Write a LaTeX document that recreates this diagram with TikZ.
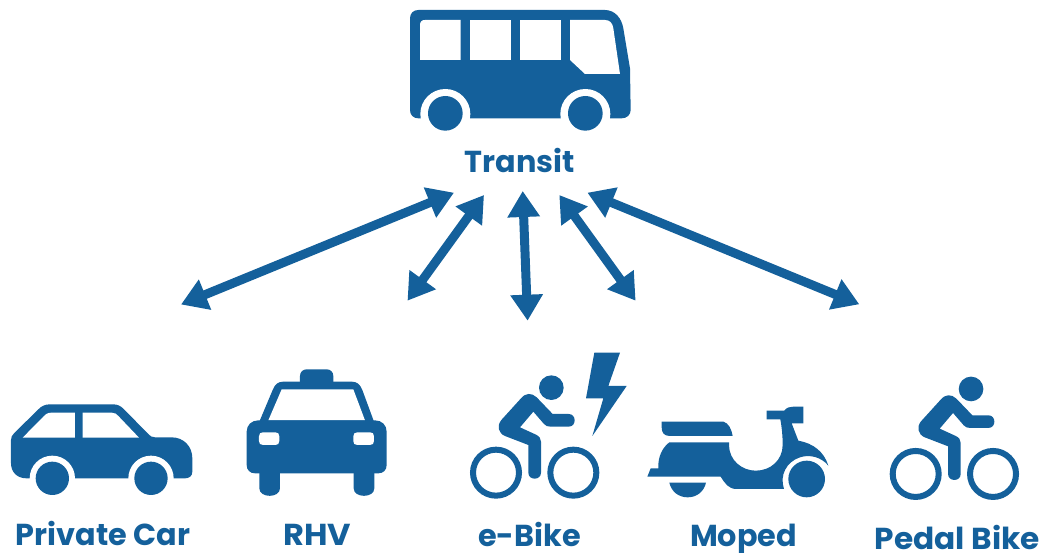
\documentclass[tikz,border=0pt]{standalone}
\usepackage{fontspec}
\setmainfont{Poppins}
\usetikzlibrary{arrows.meta}
\definecolor{blu}{HTML}{14609B}
\tikzset{
  lbl/.style={font=\fontsize{30.3}{32}\selectfont\bfseries,text=blu,inner sep=0pt,anchor=base},
  twoway/.style={draw=blu,line width=9pt,{Triangle[length=26pt,width=31pt]}-{Triangle[length=26pt,width=31pt]}},
  ico/.style={fill=blu,draw=none},
  icon/.style={scale=0.33333},
  rim/.style={draw=blu,line width=6pt,fill=none},
}
\newcommand{\cyclistshape}{%
  \fill[ico] (274,143) circle[radius=37];
  \draw[rim] (108,398) circle[radius=69];
  \draw[rim] (340,398) circle[radius=69];
  \fill[ico] (124,240) -- (183,175) .. controls (197,158) and (215,158) .. (230,172)
    -- (278,222) -- (326,222) .. controls (350,222) and (350,260) .. (326,260)
    -- (272,260) .. controls (262,260) and (258,258) .. (252,252)
    -- (220,215) -- (180,262) -- (228,284) .. controls (238,289) and (243,295) .. (243,305)
    -- (243,398) .. controls (243,422) and (205,422) .. (205,398)
    -- (205,315) -- (135,288) .. controls (115,280) and (110,257) .. (124,240) -- cycle;
}
\begin{document}
\begin{tikzpicture}[x=1pt,y=-1pt]
\useasboundingbox (0,0) rectangle (1045,553);

% Bus
\begin{scope}[shift={(400,0)},icon]
  \fill[ico] (30,55) .. controls (30,40) and (40,30) .. (55,30) -- (615,30)
    .. controls (645,30) and (665,55) .. (670,85) -- (690,205) -- (692,330)
    .. controls (692,345) and (680,355) .. (665,355) -- (55,355)
    .. controls (40,355) and (30,345) .. (30,330) -- cycle;
  \fill[white] (60,75) .. controls (60,65) and (65,60) .. (75,60) -- (182,60) -- (182,180) -- (60,180) -- cycle;
  \fill[white] (210,60) rectangle (332,180);
  \fill[white] (360,60) rectangle (482,180);
  \fill[white] (510,60) -- (615,60) .. controls (630,60) and (638,70) .. (640,85)
    -- (660,222) -- (555,222) -- (510,180) -- cycle;
  \fill[white] (136,342) circle[radius=75];
  \fill[white] (556,342) circle[radius=75];
  \fill[white] (40,356) rectangle (660,400);
  \fill[ico] (136,340) circle[radius=52];
  \fill[ico] (556,340) circle[radius=52];
\end{scope}

% Car
\begin{scope}[shift={(0,360)},icon]
  \fill[ico] (33,240) .. controls (33,232) and (36,226) .. (42,220) -- (115,148)
    .. controls (125,138) and (135,133) .. (150,133) -- (340,133)
    .. controls (352,133) and (362,138) .. (370,146) -- (445,222)
    .. controls (450,228) and (455,232) .. (465,232) -- (515,232)
    .. controls (550,232) and (577,258) .. (577,295) -- (577,335)
    .. controls (577,348) and (568,355) .. (555,355) -- (80,355)
    .. controls (50,355) and (33,335) .. (33,310) -- cycle;
  \fill[white] (68,233) -- (130,170) .. controls (138,162) and (142,158) .. (155,158) -- (225,158) -- (225,233) -- cycle;
  \fill[white] (248,158) -- (335,158) .. controls (345,158) and (350,162) .. (355,168) -- (417,233) -- (248,233) -- cycle;
  \fill[white] (157,355) circle[radius=68];
  \fill[white] (453,355) circle[radius=68];
  \fill[white] (60,356) rectangle (550,440);
  \fill[ico] (157,355) circle[radius=50];
  \fill[ico] (453,355) circle[radius=50];
\end{scope}

% Taxi
\begin{scope}[shift={(0,360)},icon]
  \fill[ico] (900,72) -- (900,48) .. controls (900,35) and (910,28) .. (920,28) -- (980,28)
    .. controls (990,28) and (1000,35) .. (1000,48) -- (1000,72) -- cycle;
  \fill[ico] (778,185) -- (818,90) .. controls (825,72) and (835,65) .. (850,65) -- (1055,65)
    .. controls (1070,65) and (1080,72) .. (1087,90) -- (1122,185) -- cycle;
  \fill[white] (805,181) -- (845,88) -- (1060,88) -- (1095,181) -- cycle;
  \fill[ico] (740,215) .. controls (740,195) and (755,181) .. (775,181) -- (1125,181)
    .. controls (1145,181) and (1160,195) .. (1160,215) -- (1160,315)
    .. controls (1160,330) and (1150,340) .. (1135,340) -- (765,340)
    .. controls (750,340) and (740,330) .. (740,315) -- cycle;
  \fill[ico] (778,330) -- (840,330) -- (840,385) .. controls (840,415) and (778,415) .. (778,385) -- cycle;
  \fill[ico] (1061,330) -- (1123,330) -- (1123,385) .. controls (1123,415) and (1061,415) .. (1061,385) -- cycle;
  \fill[white] (789,217) -- (826,217) .. controls (834,217) and (838,221) .. (838,229) -- (838,243) .. controls (838,251) and (834,255) .. (826,255) -- (789,255) .. controls (781,255) and (777,251) .. (777,243) -- (777,229) .. controls (777,221) and (781,217) .. (789,217) -- cycle;
  \fill[white] (1072,217) -- (1110,217) .. controls (1118,217) and (1122,221) .. (1122,229) -- (1122,243) .. controls (1122,251) and (1118,255) .. (1110,255) -- (1072,255) .. controls (1064,255) and (1060,251) .. (1060,243) -- (1060,229) .. controls (1060,221) and (1064,217) .. (1072,217) -- cycle;
\end{scope}

% e-Bike
\begin{scope}[shift={(460,340)},icon]
  \cyclistshape
  \fill[ico] (403,38) -- (480,38) -- (445,138) -- (500,138) -- (397,288) -- (430,175) -- (378,175) -- cycle;
\end{scope}

% Moped
\begin{scope}[shift={(640,370)},icon]
  \fill[ico] (65,155) -- (250,155) .. controls (265,158) and (275,178) .. (278,198)
    -- (90,198) .. controls (72,198) and (65,188) .. (65,172) -- cycle;
  \fill[ico] (88,217) -- (267,217) -- (267,225) .. controls (267,270) and (305,302) .. (347,302)
    .. controls (392,302) and (428,270) .. (428,225) .. controls (428,195) and (425,170) .. (421,148)
    -- (380,148) -- (380,122) -- (433,122) .. controls (440,112) and (450,110) .. (460,110)
    -- (490,110) -- (490,160) -- (455,160) -- (475,212)
    .. controls (520,220) and (552,245) .. (565,287)
    .. controls (545,262) and (510,252) .. (480,262)
    .. controls (440,275) and (418,315) .. (432,357)
    -- (290,357) .. controls (265,357) and (255,340) .. (242,320)
    -- (22,320) -- (32,295) -- (55,295) .. controls (53,260) and (68,232) .. (88,217) -- cycle;
  \fill[ico] (500,327) circle[radius=55];
  \fill[ico] (88,338) -- (198,338) .. controls (192,365) and (170,382) .. (143,382)
    .. controls (116,382) and (94,365) .. (88,338) -- cycle;
\end{scope}

% Pedal bike
\begin{scope}[shift={(879.7,341.3)},icon]
  \cyclistshape
\end{scope}

% Labels
\node[lbl] (transit) at (520,172.5) {Transit};
\node[lbl] (car) at (103,545) {Private Car};
\node[lbl] (rhv) at (317,545) {\scalebox{1.06}[1]{RHV}};
\node[lbl] (ebike) at (529.5,546) {e-Bike};
\node[lbl] (moped) at (743.5,546.5) {Moped};
\node[lbl] (pedal) at (957.5,549) {\scalebox{1.03}[1]{Pedal Bike}};

% Arrow ends
\coordinate (ta) at (454,192.7);
\coordinate (tb) at (484,195);
\coordinate (tc) at (522.7,191);
\coordinate (td) at (559.3,195);
\coordinate (te) at (587.4,192.7);
\coordinate (ea) at (181,304.5);
\coordinate (eb) at (407.5,300.7);
\coordinate (ec) at (527.6,320.7);
\coordinate (ed) at (635.6,300.7);
\coordinate (ee) at (859.3,304.3);
\draw[twoway] (ta) -- (ea);
\draw[twoway] (tb) -- (eb);
\draw[twoway] (tc) -- (ec);
\draw[twoway] (td) -- (ed);
\draw[twoway] (te) -- (ee);
\end{tikzpicture}
\end{document}
